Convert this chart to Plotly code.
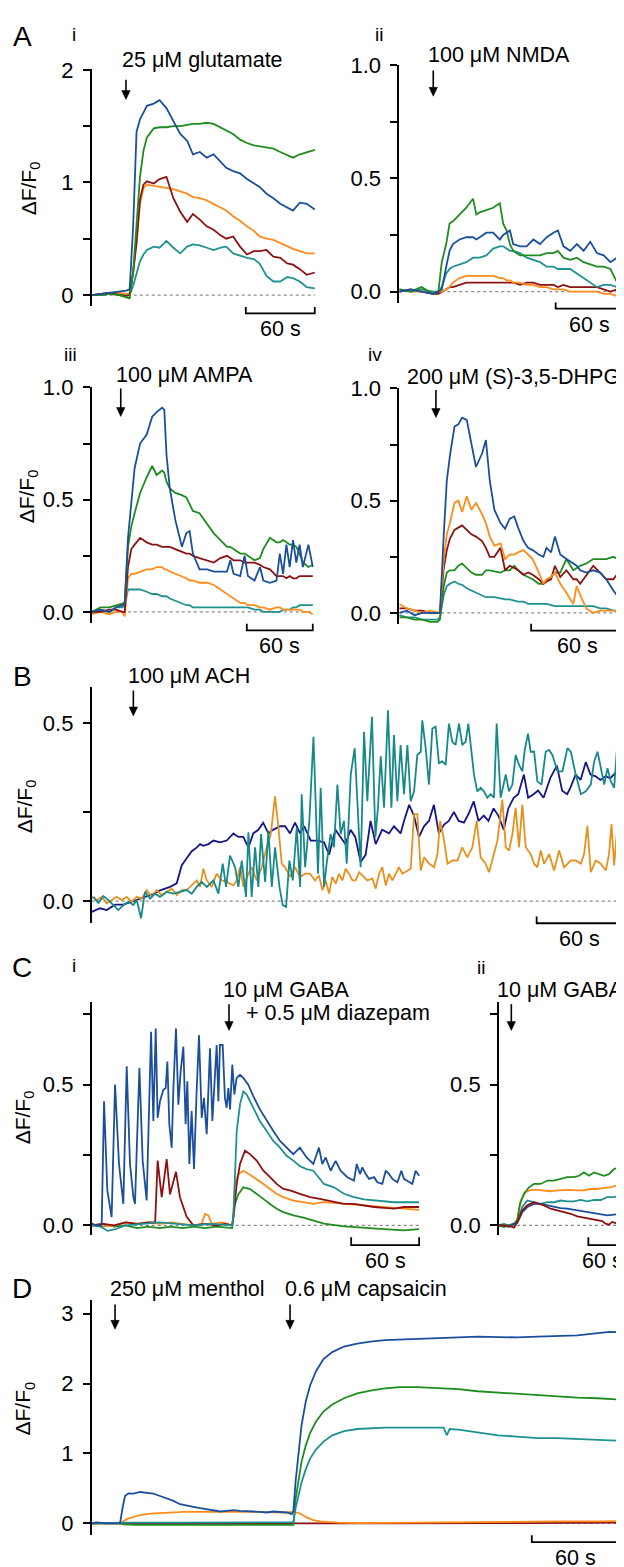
import plotly.graph_objects as go

W, H = 624, 1567
OFF = 8                     # the page body adds an 8 px margin; compensate for it
FW, FH = W - OFF, H - OFF   # figure size
FONT = "Liberation Sans, Arial, Helvetica, sans-serif"

BLUE = "#1b4f9c"
GREEN = "#1f8c1f"
DRED = "#8e1111"
ORANGE = "#ff8c1a"
TEAL = "#1f9191"
NAVY = "#151587"
ORANGE_B = "#e8901e"
TEAL_B = "#17898a"

# ---------------- A i : 25 uM glutamate ----------------
ai_t = [0, 8, 16, 24, 30, 33, 36, 39, 42, 45, 48, 54, 59, 65, 71, 77, 83, 88, 94, 100,
        106, 112, 117, 123, 129, 135, 141, 146, 152, 158, 164, 170, 175, 181, 187, 194]
ai_blue = [0.0, 0.01, 0.02, 0.03, 0.04, 0.05, 0.60, 1.45, 1.56, 1.62, 1.68, 1.70, 1.73, 1.66, 1.55, 1.43, 1.37, 1.25,
           1.27, 1.22, 1.25, 1.18, 1.13, 1.10, 1.08, 1.03, 0.99, 0.96, 0.90, 0.86, 0.81, 0.78, 0.75, 0.82, 0.81, 0.76]
ai_green = [0.0, 0.0, 0.01, 0.0, -0.02, -0.03, 0.20, 0.60, 1.05, 1.28, 1.40, 1.48, 1.49, 1.49, 1.50, 1.50, 1.51, 1.52,
            1.52, 1.53, 1.52, 1.49, 1.46, 1.43, 1.38, 1.35, 1.33, 1.32, 1.31, 1.30, 1.27, 1.24, 1.22, 1.25, 1.27, 1.29]
ai_red = [0.0, 0.01, 0.02, 0.0, -0.01, 0.0, 0.20, 0.46, 0.85, 0.98, 1.01, 0.99, 1.03, 1.05, 0.86, 0.74, 0.65, 0.72,
          0.67, 0.61, 0.58, 0.53, 0.50, 0.52, 0.43, 0.36, 0.39, 0.39, 0.40, 0.34, 0.33, 0.28, 0.27, 0.23, 0.18, 0.20]
ai_orange = [0.0, 0.01, 0.02, 0.02, 0.01, 0.02, 0.20, 0.49, 0.81, 0.95, 0.98, 0.97, 0.96, 0.95, 0.94, 0.92, 0.90, 0.87,
             0.86, 0.84, 0.81, 0.78, 0.75, 0.70, 0.66, 0.61, 0.57, 0.52, 0.50, 0.49, 0.46, 0.43, 0.41, 0.39, 0.37, 0.37]
ai_teal = [0.0, 0.0, 0.01, 0.01, 0.0, 0.0, 0.08, 0.20, 0.30, 0.36, 0.40, 0.43, 0.42, 0.48, 0.42, 0.37, 0.43, 0.45,
           0.44, 0.42, 0.40, 0.42, 0.43, 0.37, 0.35, 0.33, 0.32, 0.28, 0.17, 0.12, 0.12, 0.16, 0.15, 0.12, 0.07, 0.06]

# ---------------- A ii : 100 uM NMDA ----------------
aii_t = [0, 10, 20, 30, 35, 38, 42, 45, 48, 54, 60, 66, 69, 72, 78, 84, 90, 93, 96, 99,
         102, 108, 114, 120, 126, 132, 138, 142, 147, 153, 159, 165, 171, 177, 183, 189, 195, 200]
aii_green = [0.01, 0.0, 0.02, -0.01, 0.0, 0.13, 0.21, 0.30, 0.31, 0.34, 0.37, 0.41, 0.34, 0.35, 0.36, 0.37, 0.39, 0.30, 0.27,
             0.21, 0.18, 0.16, 0.16, 0.16, 0.16, 0.17, 0.17, 0.18, 0.15, 0.14, 0.15, 0.13, 0.12, 0.11, 0.11, 0.10, 0.04, 0.0]
aii_blue = [0.0, 0.01, 0.0, -0.01, 0.0, 0.01, 0.11, 0.18, 0.21, 0.23, 0.24, 0.24, 0.23, 0.24, 0.26, 0.26, 0.23, 0.25, 0.26,
            0.27, 0.21, 0.20, 0.20, 0.23, 0.21, 0.24, 0.26, 0.27, 0.20, 0.18, 0.21, 0.18, 0.22, 0.17, 0.16, 0.13, 0.15, 0.14]
aii_teal = [0.01, 0.0, 0.01, 0.0, 0.0, 0.02, 0.08, 0.10, 0.11, 0.12, 0.13, 0.15, 0.15, 0.15, 0.16, 0.19, 0.20, 0.20, 0.19,
            0.18, 0.18, 0.17, 0.15, 0.14, 0.13, 0.11, 0.11, 0.10, 0.10, 0.10, 0.08, 0.06, 0.04, 0.02, 0.03, 0.03, 0.02, 0.02]
aii_red = [0.0, 0.01, 0.0, -0.01, -0.01, 0.0, 0.01, 0.02, 0.02, 0.03, 0.04, 0.04, 0.04, 0.04, 0.04, 0.04, 0.04, 0.04, 0.04,
           0.04, 0.04, 0.03, 0.04, 0.04, 0.03, 0.03, 0.03, 0.02, 0.03, 0.02, 0.02, 0.02, 0.02, 0.02, 0.01, 0.0, 0.01, 0.01]
aii_orange = [0.01, 0.0, 0.0, 0.0, 0.0, 0.0, 0.01, 0.02, 0.04, 0.06, 0.07, 0.07, 0.07, 0.07, 0.07, 0.07, 0.06, 0.06, 0.05,
              0.05, 0.04, 0.04, 0.03, 0.03, 0.02, 0.02, 0.01, 0.01, 0.01, 0.0, 0.0, 0.0, 0.0, 0.0, -0.01, -0.01, -0.02, -0.01]

# ---------------- A iii : 100 uM AMPA ----------------
aiii_t = [0, 8, 16, 22, 28, 30, 33, 36, 39, 44, 50, 55, 59, 64, 66, 68, 71, 76, 82, 86, 89, 92, 98, 105,
          111, 117, 123, 126, 129, 135, 139, 142, 148, 153, 156, 162, 168, 171, 174, 177, 180, 183, 186, 189, 192, 197, 201]
aiii_blue = [0.0, 0.01, 0.0, 0.02, 0.03, 0.04, 0.33, 0.50, 0.64, 0.75, 0.79, 0.87, 0.89, 0.91, 0.90, 0.70, 0.55, 0.41,
             0.29, 0.35, 0.36, 0.26, 0.19, 0.19, 0.18, 0.18, 0.18, 0.23, 0.17, 0.16, 0.25, 0.16, 0.14, 0.20, 0.14, 0.13,
             0.14, 0.26, 0.17, 0.30, 0.20, 0.32, 0.22, 0.30, 0.20, 0.30, 0.20]
aiii_green = [0.0, 0.02, 0.02, 0.03, 0.04, 0.04, 0.29, 0.38, 0.44, 0.53, 0.60, 0.65, 0.61, 0.63, 0.62, 0.58, 0.55, 0.53,
              0.52, 0.51, 0.48, 0.45, 0.44, 0.39, 0.35, 0.32, 0.29, 0.29, 0.28, 0.26, 0.26, 0.25, 0.23, 0.24, 0.28, 0.33,
              0.31, 0.31, 0.32, 0.31, 0.30, 0.30, 0.29, 0.26, 0.22, 0.20, 0.21]
aiii_red = [0.0, 0.0, 0.01, 0.01, 0.0, 0.0, 0.20, 0.28, 0.30, 0.33, 0.31, 0.30, 0.30, 0.29, 0.29, 0.29, 0.29, 0.28,
            0.27, 0.26, 0.26, 0.25, 0.24, 0.23, 0.22, 0.24, 0.25, 0.24, 0.23, 0.23, 0.22, 0.22, 0.22, 0.21, 0.20, 0.19,
            0.16, 0.16, 0.16, 0.15, 0.16, 0.15, 0.15, 0.16, 0.16, 0.16, 0.16]
aiii_orange = [-0.01, 0.0, -0.01, 0.0, 0.0, -0.02, 0.15, 0.17, 0.17, 0.18, 0.19, 0.19, 0.20, 0.20, 0.19, 0.19, 0.18, 0.17,
               0.16, 0.15, 0.14, 0.14, 0.13, 0.13, 0.12, 0.10, 0.08, 0.07, 0.06, 0.04, 0.04, 0.03, 0.03, 0.02, 0.02, 0.01,
               0.02, 0.02, 0.01, 0.01, 0.01, 0.01, 0.01, 0.01, 0.0, 0.0, -0.01]
aiii_teal = [0.0, 0.01, 0.0, 0.02, 0.02, 0.03, 0.10, 0.10, 0.10, 0.10, 0.09, 0.08, 0.08, 0.07, 0.07, 0.07, 0.06, 0.05,
             0.04, 0.03, 0.03, 0.02, 0.02, 0.02, 0.02, 0.02, 0.02, 0.02, 0.02, 0.02, 0.02, 0.02, 0.01, 0.01, 0.0, 0.0,
             0.0, 0.0, 0.01, 0.01, 0.01, 0.02, 0.02, 0.03, 0.03, 0.03, 0.03]

# ---------------- A iv : 200 uM (S)-3,5-DHPG ----------------
aiv_t = [0, 5, 10, 15, 20, 25, 26.5, 29, 31, 33, 36, 38.5, 41, 44, 47, 50, 54, 56.5, 59, 62, 66, 69, 72, 75, 77.5,
         81, 84, 87, 91, 94, 96, 99, 101.5, 105, 109, 113.5, 115.7, 118, 122, 126.5, 131, 135, 139.6, 143, 145.6]
aiv_blue = [0.0, 0.01, -0.01, 0.0, 0.0, 0.0, 0.0, 0.35, 0.59, 0.70, 0.83, 0.84, 0.87, 0.86, 0.76, 0.65, 0.71, 0.77, 0.59,
            0.46, 0.40, 0.375, 0.42, 0.43, 0.38, 0.32, 0.29, 0.28, 0.26, 0.25, 0.29, 0.27, 0.34, 0.26, 0.24, 0.22, 0.21,
            0.19, 0.18, 0.19, 0.18, 0.15, 0.10, 0.07, 0.07]
aiv_orange = [0.04, 0.02, 0.01, 0.0, 0.01, 0.0, 0.0, 0.24, 0.35, 0.40, 0.49, 0.50, 0.45, 0.52, 0.46, 0.49, 0.44, 0.40,
              0.34, 0.30, 0.31, 0.24, 0.26, 0.26, 0.27, 0.28, 0.26, 0.24, 0.18, 0.13, 0.15, 0.16, 0.18, 0.13, 0.09, 0.04,
              0.12, 0.08, 0.02, 0.0, 0.01, 0.01, 0.01, 0.01, 0.04]
aiv_red = [0.02, 0.02, 0.01, 0.01, 0.0, 0.0, 0.0, 0.20, 0.28, 0.33, 0.37, 0.38, 0.39, 0.37, 0.35, 0.34, 0.32, 0.29, 0.25,
           0.25, 0.29, 0.19, 0.21, 0.20, 0.19, 0.17, 0.18, 0.17, 0.15, 0.13, 0.14, 0.15, 0.21, 0.16, 0.19, 0.15, 0.15,
           0.13, 0.17, 0.21, 0.18, 0.15, 0.15, 0.18, 0.16]
aiv_green = [-0.02, -0.02, -0.03, -0.03, -0.04, -0.04, -0.03, 0.12, 0.18, 0.19, 0.19, 0.21, 0.22, 0.20, 0.18, 0.17, 0.17,
             0.19, 0.19, 0.185, 0.18, 0.19, 0.19, 0.21, 0.19, 0.17, 0.16, 0.15, 0.13, 0.13, 0.14, 0.16, 0.18, 0.18, 0.24,
             0.19, 0.20, 0.21, 0.22, 0.24, 0.24, 0.24, 0.25, 0.24, 0.24]
aiv_teal = [-0.01, -0.02, -0.02, -0.03, -0.03, -0.03, -0.02, 0.08, 0.12, 0.13, 0.14, 0.13, 0.125, 0.11, 0.10, 0.09, 0.08,
            0.07, 0.07, 0.07, 0.065, 0.06, 0.06, 0.055, 0.05, 0.05, 0.04, 0.04, 0.04, 0.04, 0.04, 0.035, 0.03, 0.03, 0.03,
            0.03, 0.03, 0.03, 0.03, 0.03, 0.02, 0.02, 0.01, 0.01, 0.01]

# ---------------- B : 100 uM ACH ----------------
b_navy_t = [0, 5.9, 10.6, 16.5, 22.4, 29.4, 36.5, 43.5, 48.2, 55.3, 60, 63.5, 67, 70.6, 74, 76.5, 78.8, 82.4, 85.9, 90.6,
            95.3, 100, 103.5, 107, 110.6, 114, 117.6, 121, 124.7, 128, 133, 136.5, 140, 143.5, 147, 150, 154.6, 159,
            164, 167.5, 172, 175.6, 179, 182.7, 186, 189.8, 193.3, 196.8, 200.4, 205, 209.8, 213.3, 218, 220.4, 224,
            227.4, 231, 234.5, 238, 241.5, 245, 248.7, 252, 255.6, 259, 262.7, 266, 269.6, 273, 276.7, 280, 283.6, 287,
            290.8, 294, 297.8, 301, 305, 308, 311.8, 315, 318.9, 323.6, 328.3, 332, 335.6, 338, 341.5, 345, 348.7, 352,
            355.6, 359, 362.6, 366, 369.6, 373]
b_navy = [-0.03, -0.02, -0.025, -0.01, -0.01, 0.0, 0.01, 0.02, 0.03, 0.04, 0.05, 0.10, 0.12, 0.14, 0.15, 0.16, 0.155,
          0.16, 0.17, 0.165, 0.17, 0.19, 0.18, 0.18, 0.15, 0.19, 0.20, 0.22, 0.19, 0.20, 0.21, 0.21, 0.19, 0.22, 0.19,
          0.21, 0.17, 0.17, 0.165, 0.13, 0.20, 0.18, 0.16, 0.20, 0.18, 0.11, 0.13, 0.225, 0.16, 0.20, 0.19, 0.21, 0.19,
          0.225, 0.27, 0.24, 0.18, 0.21, 0.225, 0.27, 0.19, 0.215, 0.225, 0.25, 0.225, 0.22, 0.245, 0.28, 0.225, 0.24,
          0.225, 0.26, 0.24, 0.20, 0.26, 0.29, 0.30, 0.355, 0.29, 0.30, 0.31, 0.29, 0.345, 0.38, 0.31, 0.30, 0.32, 0.355,
          0.34, 0.39, 0.355, 0.35, 0.34, 0.35, 0.345, 0.36, 0.41]
b_teal_t = [1.2, 4.7, 8.2, 11.8, 15.3, 18.8, 22.4, 25.9, 29.4, 31.8, 34.8, 37.6, 41.2, 44.7, 48.2, 52.9, 57.6, 62.4,
            67.1, 70.6, 74.1, 77.6, 81.2, 85.9, 89.4, 92.5, 94.8, 97.6, 101.2, 103.5, 105.9, 108.9, 110.6, 112.9, 115.3,
            117.6, 119.5, 122.4, 124.7, 127.1, 129.4, 132.5, 134.8, 137.2, 139.5, 141.9, 144.7, 147.1, 148.2, 150.6,
            153.6, 156.5, 159.7, 161.6, 164, 165.8, 168.6, 171, 173.4, 175.7, 178, 180, 182.8, 185.6, 188, 189.8, 192.2,
            194.5, 197.8, 200.2, 202, 204, 206.3, 209.1, 211.5, 213.3, 215.7, 218, 220.4, 222.8, 225.1, 227.5, 229.8,
            232.2, 233.3, 235.7, 238, 240.4, 242.7, 245, 247.4, 249.8, 252.1, 254.5, 256.8, 259.2, 261.5, 263.9, 265.8,
            267.4, 269.8, 272.1, 274.5, 276.8, 279.2, 281.6, 283.9, 285.8, 288.6, 292.2, 294.5, 296.9, 299.2, 301.6,
            303.9, 305.6, 307.9, 309.8, 312.2, 314.5, 317.4, 320.4, 322.8, 325.1, 328.7, 332.2, 335.7, 338.1, 341.6,
            345.2, 348.7, 352.2, 354.6, 357, 359.3, 361.7, 364, 366.4, 368.7, 371.1, 373.4]
b_teal = [0.012, -0.005, 0.014, 0.003, -0.011, -0.025, -0.011, -0.002, -0.011, 0.003, -0.048, 0.026, 0.007, 0.021,
          0.012, 0.026, 0.021, 0.026, 0.031, 0.021, 0.04, 0.054, 0.04, 0.058, 0.021, 0.105, 0.04, 0.128, 0.095, 0.04,
          0.114, 0.012, 0.193, 0.012, 0.151, 0.04, 0.188, 0.054, 0.197, 0.04, 0.151, 0.04, -0.011, -0.016, 0.114, 0.058,
          0.206, 0.04, 0.3, 0.095, 0.225, 0.461, 0.077, 0.318, 0.04, 0.105, 0.188, 0.151, 0.327, 0.188, 0.225, 0.105,
          0.355, 0.429, 0.225, 0.095, 0.475, 0.28, 0.517, 0.179, 0.262, 0.406, 0.262, 0.535, 0.262, 0.466, 0.28, 0.438,
          0.3, 0.438, 0.28, 0.308, 0.41, 0.419, 0.507, 0.429, 0.327, 0.484, 0.489, 0.387, 0.392, 0.382, 0.498, 0.447,
          0.438, 0.498, 0.438, 0.447, 0.498, 0.438, 0.355, 0.308, 0.318, 0.308, 0.29, 0.3, 0.29, 0.498, 0.29, 0.355,
          0.308, 0.327, 0.41, 0.382, 0.364, 0.424, 0.47, 0.419, 0.419, 0.336, 0.327, 0.419, 0.424, 0.41, 0.364, 0.364,
          0.429, 0.419, 0.355, 0.3, 0.308, 0.327, 0.392, 0.419, 0.373, 0.327, 0.373, 0.336, 0.318, 0.449, 0.308]
b_orange_t = [0, 3.5, 7.1, 10.6, 14.1, 17.6, 21.2, 24.7, 28.2, 31.8, 35.3, 38.8, 42.4, 45.9, 49.4, 52.9, 56.5, 60,
              63.5, 67.1, 70.6, 74.1, 76.5, 78.8, 81.2, 84.7, 88.2, 91.8, 95.3, 97.6, 100, 102.4, 104.7, 107.1, 110.6,
              112.9, 116.5, 120, 123.5, 126.4, 129.4, 131.8, 134.1, 136.5, 140, 143.5, 147.1, 150.6, 154.1, 157.6,
              160.4, 162.8, 165.1, 167.5, 169.8, 172.2, 174.5, 176.9, 179.2, 181.6, 184, 186.3, 188.7, 191, 194.5, 198.1,
              200.4, 202.8, 205.1, 207.5, 209.8, 212.2, 214.5, 216.9, 219.2, 222.8, 225.1, 227.5, 229.8, 232.2, 234.6,
              238.1, 241.6, 244, 245.9, 248.3, 251.1, 254.6, 258.1, 261.5, 265.1, 268.6, 271.7, 274.5, 278, 280.4,
              282.7, 286.3, 289.8, 292.2, 294.5, 296.9, 299.2, 301.6, 303.9, 306.3, 309.8, 312.2, 314.5, 316.9, 319.3,
              322.8, 326.3, 329.9, 333.4, 335.7, 338.1, 341.6, 345.2, 347.5, 349.8, 352.2, 355.7, 359.3, 362.8, 365.1,
              366.8, 368.7, 371.1, 373.4, 374.8]
b_orange = [0.012, 0.003, 0.012, -0.006, 0.003, 0.012, 0.003, 0.012, -0.002, 0.012, 0.007, 0.031, 0.012, 0.031, 0.017,
            0.026, 0.035, 0.017, 0.031, 0.031, 0.044, 0.058, 0.04, 0.091, 0.058, 0.04, 0.077, 0.058, 0.054, 0.049,
            0.044, 0.058, 0.095, 0.04, 0.077, 0.095, 0.058, 0.095, 0.151, 0.188, 0.294, 0.206, 0.105, 0.095, 0.068,
            0.095, 0.068, 0.077, 0.077, 0.058,
            0.072, 0.031, 0.058, 0.021, 0.068, 0.049, 0.077, 0.058, 0.091, 0.077, 0.058, 0.058, 0.081, 0.072, 0.058,
            0.063, 0.035, 0.077, 0.095, 0.044, 0.077, 0.058, 0.077, 0.095, 0.077, 0.086, 0.091, 0.244, 0.244, 0.086,
            0.123, 0.105, 0.095, 0.132, 0.225, 0.179, 0.105, 0.114, 0.114, 0.151, 0.123, 0.151, 0.225, 0.123, 0.105,
            0.081, 0.114, 0.169, 0.285, 0.151, 0.142, 0.188, 0.262, 0.151, 0.271, 0.151, 0.132, 0.105, 0.095, 0.142,
            0.105, 0.132, 0.086, 0.142, 0.095, 0.105, 0.114, 0.114, 0.105, 0.132, 0.211, 0.081, 0.114, 0.105, 0.086,
            0.132, 0.216, 0.1, 0.216, 0.095, 0.225]

# ---------------- C i : 10 uM GABA + 0.5 uM diazepam ----------------
ci_blue_t = [0, 4.4, 8.8, 10.9, 13.8, 17.6, 20.6, 24.1, 27.9, 30.9, 33.8, 36.8, 38.2, 42.1, 45, 48.5, 52.4, 54.4,
             56.5, 58.2, 60.3, 63.2, 65.3, 66.8, 68.5, 70.6, 72.1, 74.4, 76.5, 78.5, 80.9, 82.9, 84.4, 86.2, 88.2, 90.3,
             92.6, 94.7, 97.1, 99.1, 101.5, 102.9, 104.4, 106.5, 108.8, 110.3, 111.8, 113.2, 115.6, 117.6, 119.1,
             120.6, 122.1, 124.1, 125.9, 127.9, 130.9, 133.8, 138.2, 142.6, 148.5, 154.4, 160.3, 166.2, 172.1, 177.9,
             183.8, 189.7, 195.6, 200.6, 203.5, 206.5, 210.9, 215.3, 219.7, 225.6, 231.5, 233.9, 236.8, 238.9, 241.8,
             244.8, 249.2, 252.1, 256.5, 259.5, 262.4, 265.4, 269.8, 273.3, 275.6, 280, 283, 285.9, 288.9]
ci_blue = [0.006, 0, 0, 0.441, 0.124, 0.029, 0.5, 0.218, 0.076, 0.565, 0.218, 0.1, 0.076, 0.559, 0.229, 0.088, 0.688,
           0.371, 0.7, 0.382, 0.441, 0.482, 0.488, 0.582, 0.359, 0.276, 0.488, 0.7, 0.429, 0.547, 0.635, 0.359, 0.512,
           0.218, 0.406, 0.2, 0.476, 0.676, 0.382, 0.453, 0.324, 0.512, 0.629, 0.371, 0.535, 0.641, 0.441, 0.641, 0.641,
           0.453, 0.418, 0.488, 0.412, 0.571, 0.465, 0.524, 0.535, 0.524, 0.5, 0.459, 0.412, 0.371, 0.335, 0.3, 0.276,
           0.253, 0.276, 0.241, 0.218, 0.276, 0.218, 0.241, 0.194, 0.229, 0.194, 0.171, 0.159, 0.218, 0.182, 0.206,
           0.182, 0.165, 0.171, 0.153, 0.147, 0.194, 0.182, 0.165, 0.153, 0.194, 0.165, 0.153, 0.147, 0.194, 0.176]
ci_teal_t = [0, 8, 14, 20, 30, 45, 60, 75, 90, 105, 118, 124, 125, 126.5, 128, 130.9, 133.8, 136.8, 142.6, 148.5,
             154.4, 160.3, 166.2, 172, 178, 183.8, 189.7, 195.6, 205, 213.8, 222.6, 231.5, 240.3, 249.2, 258, 266.8,
             275.6, 288.9]
ci_teal = [0.0, -0.005, -0.02, -0.015, 0.0, 0.005, 0.01, 0.005, 0.0, 0.005, 0.0, 0.0, 0.03, 0.22, 0.335, 0.43, 0.476,
           0.465, 0.42, 0.37, 0.335, 0.3, 0.276, 0.247, 0.23, 0.21, 0.2, 0.194, 0.147, 0.135, 0.112, 0.1, 0.092, 0.088,
           0.085, 0.082, 0.082, 0.082]
ci_red_t = [0, 10, 20, 30, 40, 50, 56, 58.2, 61.8, 66.2, 69.1, 74.4, 77.9, 83.8, 89.7, 100, 110, 118, 124, 125, 128,
            130.9, 135.3, 139.7, 145.6, 151.5, 157.4, 163.2, 169.1, 175, 183.8, 192.6, 201.5, 213.8, 222.6, 231.5,
            240.3, 249.2, 258, 266.8, 275.6, 288.9]
ci_red = [0.0, 0.005, 0.0, 0.01, 0.005, 0.01, 0.01, 0.23, 0.1, 0.235, 0.11, 0.19, 0.1, 0.03, 0.0, 0.005, 0.0, 0.005,
          0.0, 0.03, 0.147, 0.218, 0.265, 0.253, 0.23, 0.194, 0.171, 0.147, 0.129, 0.124, 0.112, 0.1, 0.094, 0.082,
          0.076, 0.076, 0.07, 0.065, 0.062, 0.059, 0.065, 0.065]
ci_orange_t = [0, 10, 20, 30, 40, 50, 60, 70, 80, 90, 97, 100, 103, 106, 115, 124, 125, 126.5, 129.4, 133.8, 139.7,
               145.6, 151.5, 157.4, 163.2, 169.1, 178, 186.8, 195.6, 205, 222.6, 240.3, 258, 275.6, 288.9]
ci_orange = [0.0, -0.005, 0.0, 0.01, 0.005, 0.01, 0.005, 0.01, 0.005, 0.0, 0.005, 0.04, 0.035, 0.005, 0.01, 0.0, 0.03,
             0.147, 0.18, 0.194, 0.18, 0.165, 0.147, 0.129, 0.112, 0.1, 0.088, 0.082, 0.076, 0.082, 0.076, 0.07, 0.065,
             0.059, 0.055]
ci_green_t = [0, 10, 20, 30, 40, 50, 60, 70, 80, 90, 100, 110, 124, 125, 126.5, 129.4, 133.8, 139.7, 145.6, 151.5,
              157.4, 163.2, 169.1, 178, 186.8, 195.6, 205, 222.6, 240.3, 258, 275.6, 288.9]
ci_green = [0.0, 0.005, -0.005, 0.0, -0.01, -0.005, -0.01, -0.005, -0.01, -0.005, -0.01, -0.005, -0.01, 0.03, 0.076,
            0.11, 0.135, 0.129, 0.11, 0.094, 0.076, 0.059, 0.047, 0.035, 0.027, 0.018, 0.006, -0.004, -0.01, -0.014,
            -0.018, -0.014]

# ---------------- C ii : 10 uM GABA ----------------
cii_green_t = [0, 10.3, 20.7, 31, 37.9, 43.4, 51.7, 62.1, 72.4, 86.2, 100, 113.8, 127.6, 141.4, 155.2, 165.5, 175.9,
               186.2, 196.6, 206.9, 217.2, 227.6, 237.9, 248.3, 255.2]
cii_green = [0.0, -0.006, 0.0, 0.006, 0.018, 0.076, 0.112, 0.135, 0.147, 0.147, 0.159, 0.159, 0.165, 0.171, 0.171,
             0.176, 0.188, 0.176, 0.188, 0.182, 0.176, 0.182, 0.2, 0.206, 0.212]
cii_orange_t = [0, 10.3, 20.7, 31, 37.9, 44.8, 55.2, 65.5, 79.3, 93.1, 106.9, 120.7, 134.5, 148.3, 162.1, 175.9,
                189.7, 203.4, 217.2, 231, 241.4, 248.3, 255.2]
cii_orange = [0.0, 0.0, -0.005, 0.005, 0.018, 0.088, 0.118, 0.126, 0.126, 0.124, 0.121, 0.124, 0.126, 0.126, 0.124,
              0.124, 0.129, 0.129, 0.133, 0.135, 0.141, 0.135, 0.141]
cii_tb_t = [0, 10.3, 20.7, 31, 37.9, 48.3, 58.6, 72.4, 86.2, 100, 113.8, 127.6, 141.4, 155.2, 169, 182.8, 196.6,
            210.3, 224.1, 237.9, 248.3, 255.2]
cii_teal = [0.0, 0.005, 0.0, 0.005, 0.018, 0.065, 0.088, 0.082, 0.076, 0.082, 0.082, 0.088, 0.085, 0.085, 0.09, 0.085,
            0.09, 0.09, 0.1, 0.1, 0.105, 0.102]
cii_blue = [0.0, 0.0, -0.005, 0.005, 0.008, 0.047, 0.065, 0.076, 0.076, 0.071, 0.065, 0.061, 0.059, 0.055, 0.051,
            0.047, 0.041, 0.038, 0.035, 0.038, 0.041, 0.041]
cii_red_t = [0, 10.3, 24.1, 31, 37.9, 48.3, 58.6, 72.4, 82.8, 93.1, 106.9, 120.7, 134.5, 148.3, 162.1, 175.9, 189.7,
             203.4, 213.8, 220.7, 227.6, 234.5, 241.4, 248.3, 255.2]
cii_red = [0.0, 0.0, -0.004, -0.008, 0.012, 0.053, 0.071, 0.082, 0.076, 0.071, 0.059, 0.053, 0.047, 0.041, 0.032,
           0.027, 0.024, 0.018, 0.015, 0.006, 0.002, 0.012, 0.008, 0.0, 0.004]

# ---------------- D : 250 uM menthol, 0.6 uM capsaicin ----------------
d_blue_t = [0, 3.4, 10, 19.3, 21.1, 22.7, 25, 28.4, 33, 37.5, 42, 46.6, 51.1, 55.7, 60.2, 64.8, 69.3, 73.9, 78.4, 83,
            87.5, 92, 96.6, 101.1, 105.7, 110.2, 114.8, 119.3, 123.9, 128.4, 133, 136.4, 137.5, 139, 141, 143, 146,
            149, 153, 158, 164, 172, 181, 190, 200, 210, 222, 236, 250, 263, 277, 290, 304, 317, 331, 345, 353, 361]
d_blue = [0.0, 0.015, 0.0, 0.0, 0.227, 0.392, 0.43, 0.425, 0.449, 0.439, 0.425, 0.392, 0.359, 0.321, 0.274, 0.25,
          0.236, 0.217, 0.203, 0.189, 0.17, 0.179, 0.189, 0.179, 0.17, 0.17, 0.165, 0.156, 0.17, 0.165, 0.156, 0.132,
          0.18, 0.6, 1.05, 1.4, 1.75, 1.98, 2.18, 2.35, 2.45, 2.53, 2.57, 2.6, 2.62, 2.63, 2.64, 2.65, 2.66, 2.67,
          2.66, 2.66, 2.67, 2.68, 2.69, 2.72, 2.74, 2.73]
d_green_t = [0, 19.3, 22, 30, 60, 100, 137.5, 139, 141, 143, 146, 149, 153, 158, 164, 172, 181, 190, 200, 210, 222,
             236, 250, 263, 277, 290, 304, 317, 331, 345, 361]
d_green = [0.0, 0.0, -0.015, -0.02, -0.02, -0.02, -0.02, 0.35, 0.65, 0.88, 1.12, 1.3, 1.46, 1.6, 1.7, 1.79, 1.86, 1.9,
           1.93, 1.95, 1.95, 1.93, 1.92, 1.89, 1.87, 1.85, 1.84, 1.82, 1.80, 1.79, 1.77]
d_teal_t = [0, 19.3, 22, 60, 100, 137.5, 139, 141, 143, 146, 149, 153, 158, 164, 172, 181, 190, 200, 210, 222, 236,
            240, 242, 244, 250, 263, 277, 290, 304, 317, 331, 345, 361]
d_teal = [0.0, 0.0, 0.01, 0.012, 0.015, 0.015, 0.22, 0.42, 0.58, 0.78, 0.93, 1.06, 1.17, 1.26, 1.32, 1.35, 1.36, 1.37,
          1.37, 1.37, 1.36, 1.37, 1.26, 1.35, 1.34, 1.30, 1.26, 1.24, 1.22, 1.22, 1.21, 1.20, 1.18]
d_orange_t = [0, 19.3, 23.9, 28.4, 33, 39.8, 51.1, 62.5, 73.9, 85.2, 96.6, 108, 119.3, 130.7, 137.5, 142, 146.6, 151,
              155.5, 160, 168, 181.6, 208.8, 235.9, 263, 290.2, 317.3, 344.5, 360.8]
d_orange = [0.0, 0.0, 0.06, 0.094, 0.12, 0.14, 0.156, 0.165, 0.165, 0.17, 0.165, 0.165, 0.16, 0.156, 0.165, 0.142,
            0.085, 0.047, 0.03, 0.02, 0.01, 0.005, 0.01, 0.014, 0.024, 0.028, 0.028, 0.028, 0.033]
d_red_t = [0, 19.3, 25, 137.5, 141, 200, 300, 361]
d_red = [0.0, 0.0, -0.01, -0.01, 0.0, 0.0, 0.005, 0.01]

# ---------------- stimuli / scale bars ----------------
stim_times = {"Ai": [29.8], "Aii": [30.4], "Aiii": [26.4], "Aiv": [23.9], "B": [29.4],
              "Ci": [121.2], "Cii": [25.5], "D": [15.9, 135.2]}
scale_bar_end = {"Ai": 194, "Aii": 200, "Aiii": 201, "Aiv": 146, "B": 374, "Ci": 289, "Cii": 245, "D": 360}
trace_end = {"Ai": 194, "Aii": 200, "Aiii": 201, "Aiv": 145.6, "B": 374.8, "Ci": 288.9, "Cii": 255.2, "D": 361}

# ---------------- geometry (page pixels) ----------------
GEOM = {
    "Ai":   dict(x0=91.7, pps=1.15, tmax=195, zero=285.7, ppu=113.7, top=57.3, bot=296.7,
                 tv=[0, 0.5, 1, 1.5, 2], tt=["0", "", "1", "", "2"], bar=(297.7, 304.3)),
    "Aii":  dict(x0=399.3, pps=1.117, tmax=201, zero=282.3, ppu=229.0, top=53.3, bot=293.3,
                 tv=[0, .25, .5, .75, 1], tt=["0.0", "", "0.5", "", "1.0"], bar=(293.3, 299.5)),
    "Aiii": dict(x0=91.7, pps=1.1, tmax=202, zero=605.7, ppu=226.7, top=378.5, bot=617,
                 tv=[0, .25, .5, .75, 1], tt=["0.0", "", "0.5", "", "1.0"], bar=(617.7, 624.3)),
    "Aiv":  dict(x0=399.3, pps=1.533, tmax=146, zero=606.7, ppu=226.7, top=380, bot=617.5,
                 tv=[0, .25, .5, .75, 1], tt=["0.0", "", "0.5", "", "1.0"], bar=(617.7, 624.5)),
    "B":    dict(x0=91.7, pps=1.417, tmax=375, zero=897.7, ppu=360.0, top=681.7, bot=920,
                 tv=[0, .25, .5], tt=["0.0", "", "0.5"], bar=(913.3, 920)),
    "Ci":   dict(x0=91.7, pps=1.133, tmax=290, zero=1225, ppu=284.0, top=1000, bot=1235,
                 tv=[0, .25, .5, .75], tt=["0.0", "", "0.5", ""], bar=(1237, 1245)),
    "Cii":  dict(x0=499, pps=0.483, tmax=256, zero=1225, ppu=284.0, top=1000, bot=1235,
                 tv=[0, .25, .5, .75], tt=["0.0", "", "0.5", ""], bar=(1237, 1245)),
    "D":    dict(x0=91.7, pps=1.467, tmax=362, zero=1526, ppu=70.6, top=1300, bot=1538,
                 tv=[0, 1, 2, 3], tt=["0", "1", "2", "3"], bar=(1538, 1545)),
}
ARROWS = {"Ai": (68.3, 88.3), "Aii": (59, 85), "Aiii": (380, 408.3), "Aiv": (381.7, 409.3), "B": (685, 710.7),
          "Ci": (1001.7, 1028.3), "Cii": (1001.7, 1028.3), "D": (1305, 1330)}

KEYS = ["Ai", "Aii", "Aiii", "Aiv", "B", "Ci", "Cii", "D"]
IDX = {k: i + 1 for i, k in enumerate(KEYS)}


def xn(k):
    return "x" if IDX[k] == 1 else f"x{IDX[k]}"


def yn(k):
    return "y" if IDX[k] == 1 else f"y{IDX[k]}"


def px(p):
    return (p - OFF) / FW


def py(p):
    return 1 - (p - OFF) / FH


fig = go.Figure()

SERIES = [
    ("Ai", ai_t, ai_teal, TEAL), ("Ai", ai_t, ai_orange, ORANGE), ("Ai", ai_t, ai_red, DRED),
    ("Ai", ai_t, ai_green, GREEN), ("Ai", ai_t, ai_blue, BLUE),
    ("Aii", aii_t, aii_red, DRED), ("Aii", aii_t, aii_orange, ORANGE), ("Aii", aii_t, aii_teal, TEAL),
    ("Aii", aii_t, aii_green, GREEN), ("Aii", aii_t, aii_blue, BLUE),
    ("Aiii", aiii_t, aiii_teal, TEAL), ("Aiii", aiii_t, aiii_orange, ORANGE), ("Aiii", aiii_t, aiii_red, DRED),
    ("Aiii", aiii_t, aiii_green, GREEN), ("Aiii", aiii_t, aiii_blue, BLUE),
    ("Aiv", aiv_t, aiv_teal, TEAL), ("Aiv", aiv_t, aiv_green, GREEN), ("Aiv", aiv_t, aiv_red, DRED),
    ("Aiv", aiv_t, aiv_orange, ORANGE), ("Aiv", aiv_t, aiv_blue, BLUE),
    ("B", b_navy_t, b_navy, NAVY), ("B", b_orange_t, b_orange, ORANGE_B), ("B", b_teal_t, b_teal, TEAL_B),
    ("Ci", ci_green_t, ci_green, GREEN), ("Ci", ci_orange_t, ci_orange, ORANGE), ("Ci", ci_red_t, ci_red, DRED),
    ("Ci", ci_teal_t, ci_teal, TEAL), ("Ci", ci_blue_t, ci_blue, BLUE),
    ("Cii", cii_tb_t, cii_teal, TEAL), ("Cii", cii_orange_t, cii_orange, ORANGE),
    ("Cii", cii_green_t, cii_green, GREEN), ("Cii", cii_tb_t, cii_blue, BLUE), ("Cii", cii_red_t, cii_red, DRED),
    ("D", d_red_t, d_red, DRED), ("D", d_orange_t, d_orange, ORANGE), ("D", d_green_t, d_green, GREEN),
    ("D", d_teal_t, d_teal, TEAL), ("D", d_blue_t, d_blue, BLUE),
]
for k, t, v, c in SERIES:
    fig.add_trace(go.Scatter(x=t, y=v, mode="lines", line=dict(color=c, width=1.8),
                             xaxis=xn(k), yaxis=yn(k), hoverinfo="skip", showlegend=False))

layout = dict(width=FW, height=FH, margin=dict(l=0, r=0, t=0, b=0), paper_bgcolor="white",
              plot_bgcolor="white", showlegend=False, font=dict(family=FONT, color="black"))
shapes, annotations = [], []

for k in KEYS:
    g = GEOM[k]
    i = IDX[k]
    x1 = g["x0"] + g["tmax"] * g["pps"]
    layout["xaxis" if i == 1 else f"xaxis{i}"] = dict(
        domain=[px(g["x0"]), min(px(x1), 1)], range=[0, g["tmax"]], visible=False,
        anchor=yn(k), fixedrange=True)
    layout["yaxis" if i == 1 else f"yaxis{i}"] = dict(
        domain=[py(g["bot"]), py(g["top"])],
        range=[(g["zero"] - g["bot"]) / g["ppu"], (g["zero"] - g["top"]) / g["ppu"]],
        anchor=xn(k), showline=True, linecolor="black", linewidth=1.8, ticks="outside", ticklen=7,
        tickwidth=1.8, tickcolor="black", tickvals=g["tv"], ticktext=g["tt"], showgrid=False,
        zeroline=False, tickfont=dict(family=FONT, size=22, color="black"), ticklabelstandoff=5,
        fixedrange=True)
    # dotted baseline
    shapes.append(dict(type="line", xref=xn(k), yref=yn(k), x0=0, x1=trace_end[k], y0=0, y1=0,
                       line=dict(color="#8a8a8a", width=1.3, dash="dot"), layer="below"))
    # scale bar (60 s)
    te = scale_bar_end[k]
    ts = te - 60
    yt, yb = py(g["bar"][0]), py(g["bar"][1])
    shapes.append(dict(type="path", xref=xn(k), yref="paper",
                       path=f"M {ts},{yt} L {ts},{yb} L {te},{yb} L {te},{yt}",
                       line=dict(color="black", width=1.8)))
    annotations.append(dict(x=(ts + te) / 2, xref=xn(k), y=py(g["bar"][1] + 16), yref="paper",
                            text="60 s", showarrow=False, xanchor="center", yanchor="middle",
                            font=dict(family=FONT, size=21.5, color="black")))
    # stimulus arrows: shaft + filled head
    top, tip = ARROWS[k]
    hw = 4.2 / g["pps"]          # half head width in seconds
    for s in stim_times[k]:
        shapes.append(dict(type="line", xref=xn(k), yref="paper", x0=s, x1=s, y0=py(top), y1=py(tip - 6),
                           line=dict(color="black", width=1.6)))
        shapes.append(dict(type="path", xref=xn(k), yref="paper",
                           path=f"M {s - hw},{py(tip - 9)} L {s + hw},{py(tip - 9)} L {s},{py(tip)} Z",
                           fillcolor="black", line=dict(color="black", width=0.5)))

# text labels (left x px, centre y px)
TEXTS = [
    ("25 μM glutamate", 120, 48), ("100 μM NMDA", 426, 43), ("100 μM AMPA", 114, 366),
    ("200 μM (S)-3,5-DHPG", 405, 368), ("100 μM ACH", 126, 670), ("10 μM GABA", 221, 987),
    ("+ 0.5 μM diazepam", 244, 1011), ("10 μM GABA", 495, 987), ("250 μM menthol", 108, 1289),
    ("0.6 μM capsaicin", 283, 1289),
]
for txt, x, y in TEXTS:
    annotations.append(dict(x=px(x), y=py(y), xref="paper", yref="paper", text=txt, showarrow=False,
                            xanchor="left", yanchor="middle", font=dict(family=FONT, size=21.5, color="black")))

LETTERS = [("A", 22, 25), ("B", 22, 671), ("C", 22, 965), ("D", 22, 1289)]
for txt, x, y in LETTERS:
    annotations.append(dict(x=px(x), y=py(y), xref="paper", yref="paper", text=txt, showarrow=False,
                            xanchor="center", yanchor="middle", font=dict(family=FONT, size=28, color="black")))

NUMERALS = [("i", 74, 23), ("ii", 379, 23), ("iii", 70, 346), ("iv", 375, 346), ("i", 74, 963), ("ii", 481, 965)]
for txt, x, y in NUMERALS:
    annotations.append(dict(x=px(x), y=py(y), xref="paper", yref="paper", text=txt, showarrow=False,
                            xanchor="center", yanchor="middle", font=dict(family=FONT, size=19, color="black")))

YTITLES = [(30, 178), (28, 489), (26, 802), (24, 1116), (24, 1410)]
for x, y in YTITLES:
    annotations.append(dict(x=px(x), y=py(y), xref="paper", yref="paper", text="ΔF/F<sub>0</sub>",
                            showarrow=False, textangle=-90, xanchor="center", yanchor="middle",
                            font=dict(family=FONT, size=21, color="black")))

layout["shapes"] = shapes
layout["annotations"] = annotations
fig.update_layout(**layout)
fig.write_html("out.html")
